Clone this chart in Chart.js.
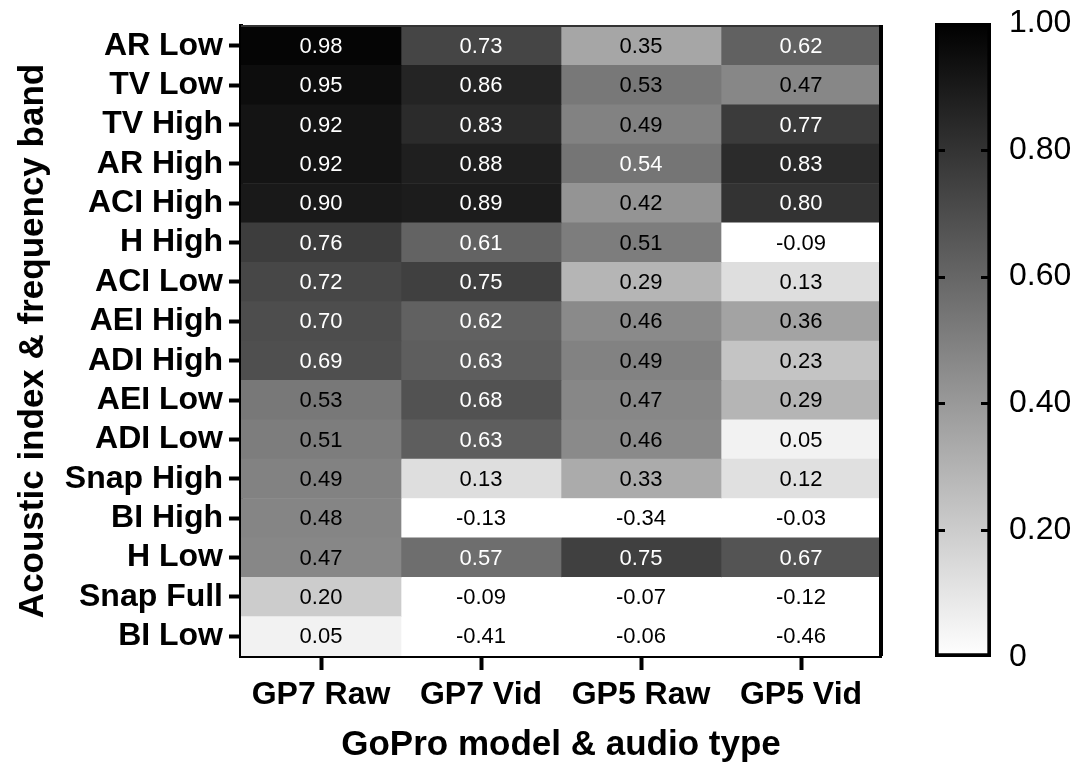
<!DOCTYPE html>
<html>
<head>
<meta charset="utf-8">
<script src="https://cdn.jsdelivr.net/npm/chart.js@4/dist/chart.umd.min.js"></script>
<style>
  html, body { margin:0; padding:0; background:#fff; }
  #wrap { position:relative; width:1083px; height:769px; }
  #heat { position:absolute; left:0; top:0; }
  #bar { position:absolute; left:900px; top:0; }
</style>
</head>
<body>
<div id="wrap">
  <canvas id="heat" width="905" height="769"></canvas>
  <canvas id="bar" width="183" height="769"></canvas>
</div>
<script>
// rows top to bottom
const rows = ['AR Low','TV Low','TV High','AR High','ACI High','H High','ACI Low','AEI High',
              'ADI High','AEI Low','ADI Low','Snap High','BI High','H Low','Snap Full','BI Low'];
const cols = ['GP7 Raw','GP7 Vid','GP5 Raw','GP5 Vid'];

const gp7Raw = [0.98,0.95,0.92,0.92,0.90,0.76,0.72,0.70,0.69,0.53,0.51,0.49,0.48,0.47,0.20,0.05];
const gp7Vid = [0.73,0.86,0.83,0.88,0.89,0.61,0.75,0.62,0.63,0.68,0.63,0.13,-0.13,0.57,-0.09,-0.41];
const gp5Raw = [0.35,0.53,0.49,0.54,0.42,0.51,0.29,0.46,0.49,0.47,0.46,0.33,-0.34,0.75,-0.07,-0.06];
const gp5Vid = [0.62,0.47,0.77,0.83,0.80,-0.09,0.13,0.36,0.23,0.29,0.05,0.12,-0.03,0.67,-0.12,-0.46];
const colValues = [gp7Raw, gp7Vid, gp5Raw, gp5Vid];

const barTicks = [0, 0.2, 0.4, 0.6, 0.8, 1.0];

const FONT = "'Liberation Sans', Arial, sans-serif";

function gray(v) {
    const t = Math.max(0, Math.min(1, v));
    const g = Math.round(255 * (1 - t));
    return `rgb(${g},${g},${g})`;
}

// cell labels + top/right frame
const cellText = {
    id: 'cellText',
    afterDatasetsDraw(chart) {
        const ctx = chart.ctx;
        ctx.save();
        ctx.font = `22px ${FONT}`;
        ctx.textAlign = 'center';
        ctx.textBaseline = 'middle';
        chart.data.datasets.forEach((ds, di) => {
            const meta = chart.getDatasetMeta(di);
            meta.data.forEach((el, i) => {
                const v = colValues[di][i];
                const p = el.getCenterPoint();
                ctx.fillStyle = v >= 0.535 ? '#fff' : '#000';
                ctx.fillText(v.toFixed(2), p.x, p.y + 1);
            });
        });
        const a = chart.chartArea;
        ctx.strokeStyle = '#333';
        ctx.lineWidth = 2;
        ctx.beginPath(); ctx.moveTo(a.left, a.top); ctx.lineTo(a.right, a.top); ctx.stroke();
        ctx.strokeStyle = '#000';
        ctx.lineWidth = 4;
        ctx.beginPath(); ctx.moveTo(a.right, a.top - 1); ctx.lineTo(a.right, a.bottom); ctx.stroke();
        ctx.restore();
    }
};

new Chart(document.getElementById('heat'), {
    type: 'bar',
    data: {
        labels: rows,
        datasets: colValues.map((vals, c) => ({
            label: cols[c],
            data: vals.map(() => [c, c + 1]),
            backgroundColor: vals.map(gray),
            borderWidth: 0,
            barPercentage: 1,
            categoryPercentage: 1,
            grouped: false
        }))
    },
    options: {
        indexAxis: 'y',
        responsive: false,
        animation: false,
        layout: { padding: { top: 26, right: 24, left: 0, bottom: 0 } },
        plugins: { legend: { display: false }, tooltip: { enabled: false } },
        scales: {
            x: {
                type: 'linear', min: 0, max: 4, z: 1,
                afterBuildTicks: s => { s.ticks = [0.5, 1.5, 2.5, 3.5].map(v => ({ value: v })); },
                afterFit: s => { s.height = 113; },
                ticks: {
                    callback: v => cols[Math.floor(v)],
                    font: { family: FONT, size: 32, weight: 'bold' },
                    color: '#000', padding: 6, maxRotation: 0, autoSkip: false
                },
                grid: { drawOnChartArea: false, drawTicks: true, tickLength: 14, tickWidth: 4, tickColor: '#000' },
                border: { color: '#000', width: 4 },
                title: {
                    display: true, text: 'GoPro model & audio type', color: '#000',
                    font: { family: FONT, size: 35, weight: 'bold' },
                    padding: { top: 0, bottom: 3 }
                }
            },
            y: {
                type: 'category', z: 1,
                afterFit: s => { s.width = 241; },
                ticks: {
                    font: { family: FONT, size: 32, weight: 'bold' },
                    color: '#000', padding: 6, autoSkip: false
                },
                grid: { offset: false, drawOnChartArea: false, drawTicks: true, tickLength: 12, tickWidth: 4, tickColor: '#000' },
                border: { color: '#000', width: 4 },
                title: {
                    display: true, text: 'Acoustic index & frequency band', color: '#000',
                    font: { family: FONT, size: 35, weight: 'bold' },
                    padding: { top: 12, bottom: 0 }
                }
            }
        }
    },
    plugins: [cellText]
});

// color scale bar with inner tick stubs
const innerTicks = {
    id: 'innerTicks',
    afterDatasetsDraw(chart) {
        const ctx = chart.ctx, y = chart.scales.y;
        const el = chart.getDatasetMeta(0).data[0];
        const l = el.x - el.width / 2, r = el.x + el.width / 2;
        ctx.save();
        ctx.strokeStyle = '#000';
        ctx.lineWidth = 3;
        barTicks.slice(1, -1).forEach(t => {
            const py = Math.round(y.getPixelForValue(t)) + 0.5;
            ctx.beginPath();
            ctx.moveTo(l, py); ctx.lineTo(l + 10, py);
            ctx.moveTo(r - 10, py); ctx.lineTo(r, py);
            ctx.stroke();
        });
        ctx.restore();
    }
};

new Chart(document.getElementById('bar'), {
    type: 'bar',
    data: {
        labels: [''],
        datasets: [{
            data: [[0, 1]],
            backgroundColor: c => {
                const a = c.chart.chartArea;
                if (!a) return '#888';
                const g = c.chart.ctx.createLinearGradient(0, a.bottom, 0, a.top);
                g.addColorStop(0, gray(0));
                g.addColorStop(1, gray(1));
                return g;
            },
            borderColor: '#000',
            borderWidth: 4,
            borderSkipped: false,
            barPercentage: 1,
            categoryPercentage: 1
        }]
    },
    options: {
        responsive: false,
        animation: false,
        layout: { padding: { left: 35, top: 23, bottom: 112, right: 0 } },
        plugins: { legend: { display: false }, tooltip: { enabled: false } },
        scales: {
            x: { display: false },
            y: {
                position: 'right', min: 0, max: 1,
                afterBuildTicks: s => { s.ticks = barTicks.map(v => ({ value: v })); },
                afterFit: s => { s.width = 92; s.paddingTop = 0; s.paddingBottom = 0; },
                ticks: {
                    callback: v => v === 0 ? '0' : v.toFixed(2),
                    font: { family: FONT, size: 32 },
                    color: '#000', padding: 18
                },
                grid: { display: false, drawTicks: false },
                border: { display: false }
            }
        }
    },
    plugins: [innerTicks]
});
</script>
</body>
</html>
